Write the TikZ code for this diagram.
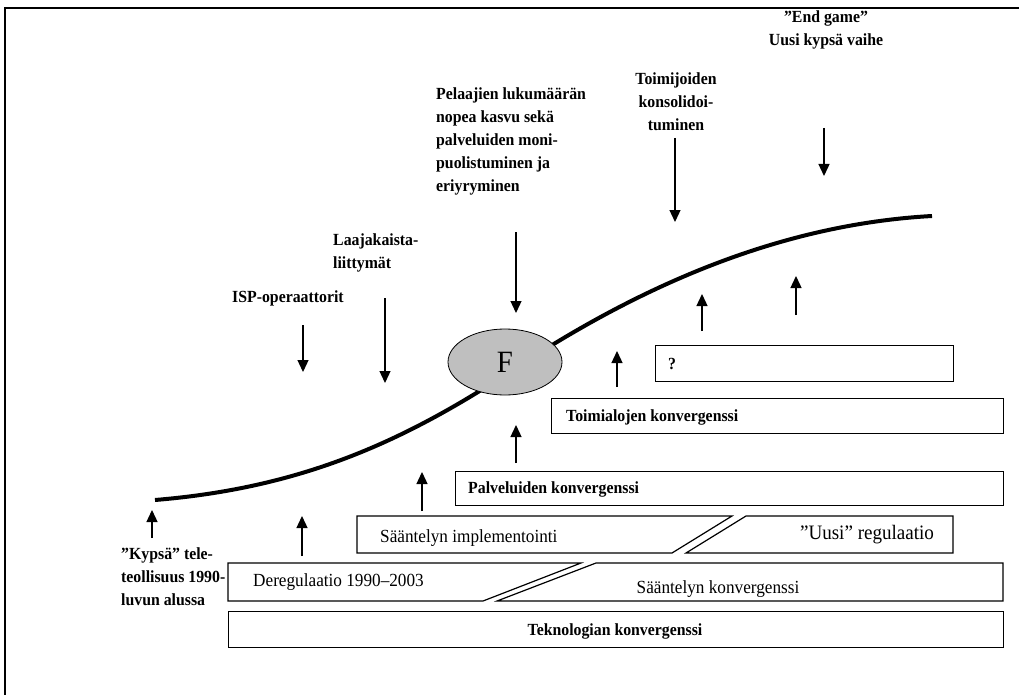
\documentclass[tikz,border=0pt]{standalone}
\usepackage{fontspec}
\setmainfont{Liberation Serif}
% a touch condensed: slightly taller glyphs at the usual set width
\newfontfamily\tallserif[FakeStretch=0.93]{Liberation Serif}
\usetikzlibrary{arrows.meta,shapes.geometric}
\begin{document}
\begin{tikzpicture}[x=1pt,y=-1pt,
  lbl/.style={font=\tallserif\fontsize{17}{23}\selectfont\bfseries, inner sep=0pt},
  reg/.style={font=\tallserif\fontsize{18.5}{22}\selectfont, inner sep=0pt},
  bar/.style={draw, line width=1.2pt, rectangle, inner sep=0pt, anchor=north west},
  slab/.style={draw, line width=1.2pt},
  arr/.style={line width=1.3pt, -{Triangle[length=12pt,width=11pt]}},
]
\useasboundingbox (0,0) rectangle (1019,695);

% outer frame
\draw[line width=2pt] (5,705) -- (5,8) -- (1030,8);

% growth curve
\draw[line width=4pt] (155,500) .. controls (300,488) and (400,443) .. (505,375)
  .. controls (600,312) and (750,226) .. (932,216);

% phase labels
\node[lbl, align=center] (endgame) at (826,30) {”End game”\\Uusi kypsä vaihe};
\node[lbl, align=center] (toimijat) at (676,102) {Toimijoiden\\konsolidoi-\\tuminen};
\node[lbl, align=left, anchor=north west] (pelaajat) at (436,88) {Pelaajien lukumäärän\\nopea kasvu sekä\\palveluiden moni-\\puolistuminen ja\\eriyryminen};
\node[lbl, align=left, anchor=west] (laaja) at (333,253) {Laajakaista-\\liittymät};
\node[lbl, anchor=west] (isp) at (232,298) {ISP-operaattorit};
\node[lbl, align=left, anchor=north west] (kypsa) at (121,547) {”Kypsä” tele-\\teollisuus 1990-\\luvun alussa};

% layered blocks
\node[bar, minimum width=298pt, minimum height=36pt] (qbox) at (655,345) {};
\node[lbl, anchor=west] (qtxt) at (668,364) {?};
\node[bar, minimum width=452pt, minimum height=35pt] (toimbox) at (551,398) {};
\node[lbl, anchor=west] (toimtxt) at (566,417) {Toimialojen konvergenssi};
\node[bar, minimum width=548pt, minimum height=34pt] (palvbox) at (455,471) {};
\node[lbl, anchor=west] (palvtxt) at (468,489) {Palveluiden konvergenssi};

\draw[slab] (357,516) -- (732,516) -- (672,553) -- (357,553) -- cycle;
\node[reg, anchor=west] (impl) at (380,538) {Sääntelyn implementointi};
\draw[slab] (746,516) -- (953,516) -- (953,553) -- (686,553) -- cycle;
\node[reg, font=\tallserif\fontsize{20.5}{22}\selectfont] (uusi) at (867,535) {”Uusi” regulaatio};

\draw[slab] (228,563) -- (581,563) -- (483,601) -- (228,601) -- cycle;
\node[reg, anchor=west] (dereg) at (253,582) {Deregulaatio 1990–2003};
\draw[slab] (596,563) -- (1003,563) -- (1003,601) -- (497,601) -- cycle;
\node[reg] (skonv) at (718,589) {Sääntelyn konvergenssi};

\node[bar, minimum width=775pt, minimum height=36pt] (tekbox) at (228,611) {};
\node[lbl] (tektxt) at (615,631) {Teknologian konvergenssi};

% innovation ellipse
\node[ellipse, draw, line width=0.8pt, fill=gray!50, minimum width=114pt, minimum height=66pt,
  font=\tallserif\fontsize{31}{34}\selectfont] (F) at (505,362) {F};

% downward arrows
\coordinate (d1a) at (303,325); \coordinate (d1b) at (303,372);
\coordinate (d2a) at (385,298); \coordinate (d2b) at (385,383);
\coordinate (d3a) at (516,232); \coordinate (d3b) at (516,313);
\coordinate (d4a) at (675,138); \coordinate (d4b) at (675,222);
\coordinate (d5a) at (824,128); \coordinate (d5b) at (824,176);
\foreach \i in {1,...,5} \draw[arr] (d\i a) -- (d\i b);

% upward arrows
\coordinate (u1a) at (152,538); \coordinate (u1b) at (152,510);
\coordinate (u2a) at (302,556); \coordinate (u2b) at (302,516);
\coordinate (u3a) at (422,511); \coordinate (u3b) at (422,472);
\coordinate (u4a) at (516,463); \coordinate (u4b) at (516,425);
\coordinate (u5a) at (617,387); \coordinate (u5b) at (617,351);
\coordinate (u6a) at (702,331); \coordinate (u6b) at (702,294);
\coordinate (u7a) at (796,315); \coordinate (u7b) at (796,276);
\foreach \i in {1,...,7} \draw[arr] (u\i a) -- (u\i b);
\end{tikzpicture}
\end{document}
